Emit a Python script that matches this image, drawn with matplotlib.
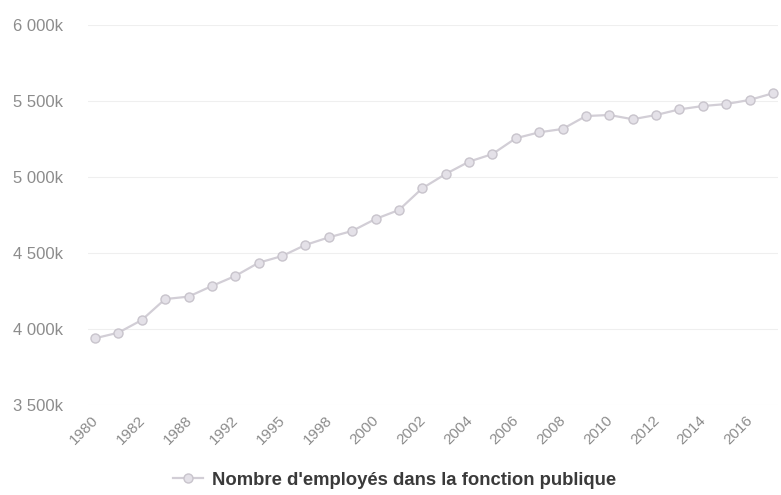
import matplotlib
matplotlib.use("Agg")
import matplotlib.pyplot as plt
import matplotlib.transforms as mtransforms

plt.rcParams["font.family"] = ["Liberation Sans", "DejaVu Sans"]

# years on the category axis (only every other one is labelled)
years = ["1980", "1981", "1982", "1985", "1988", "1990", "1992", "1994", "1995", "1996",
         "1998", "1999", "2000", "2001", "2002", "2003", "2004", "2005", "2006", "2007",
         "2008", "2009", "2010", "2011", "2012", "2013", "2014", "2015", "2016", "2017"]
# employees, thousands
employees = [3939, 3976, 4059, 4197, 4213, 4283, 4349, 4436, 4480, 4553,
             4603, 4645, 4724, 4783, 4926, 5020, 5101, 5151, 5255, 5294,
             5316, 5401, 5408, 5380, 5408, 5445, 5467, 5480, 5507, 5551]
y_ticks = [3500, 4000, 4500, 5000, 5500, 6000]
series_label = "Nombre d'employés dans la fonction publique"

LINE_COLOR = "#d2ced6"
TEXT_COLOR = "#8c8c8c"

fig = plt.figure(figsize=(7.81, 4.95), dpi=100)
ax = fig.add_axes([0.1127, 0.1818, 0.883, 0.7677])

x = list(range(len(years)))
ax.plot(x, employees, color=LINE_COLOR, lw=1.6, marker="o", markersize=6.5,
        markerfacecolor="#e4e1e8", markeredgecolor="#c8c4cc", markeredgewidth=1.0,
        label=series_label)

ax.set_xlim(-0.3, 29.2)
ax.set_ylim(3500, 6000)
ax.set_yticks(y_ticks)
ax.set_yticklabels([f"{v // 1000} {v % 1000:03d}k" for v in y_ticks])
ax.set_xticks(x[::2])
ax.set_xticklabels(years[::2], rotation=45, ha="right", va="top")

ax.tick_params(axis="y", length=0, pad=18, labelsize=12, labelcolor=TEXT_COLOR)
ax.tick_params(axis="x", length=0, pad=6, labelsize=11, labelcolor=TEXT_COLOR)
# nudge the rotated year labels a little to the right
shift = mtransforms.ScaledTranslation(6 / 100, 0, fig.dpi_scale_trans)
for lab in ax.get_xticklabels():
    lab.set_transform(lab.get_transform() + shift)
ax.grid(axis="y", color="#efefef", lw=0.8)
ax.set_axisbelow(True)
for s in ax.spines.values():
    s.set_visible(False)

leg = fig.legend(loc="center", bbox_to_anchor=(0.505, 0.03), frameon=False,
                 handlelength=1.6, handletextpad=0.5,
                 prop={"weight": "bold", "size": 13.3})
for t in leg.get_texts():
    t.set_color("#3a3a3a")

fig.savefig("out.png", dpi=100)
